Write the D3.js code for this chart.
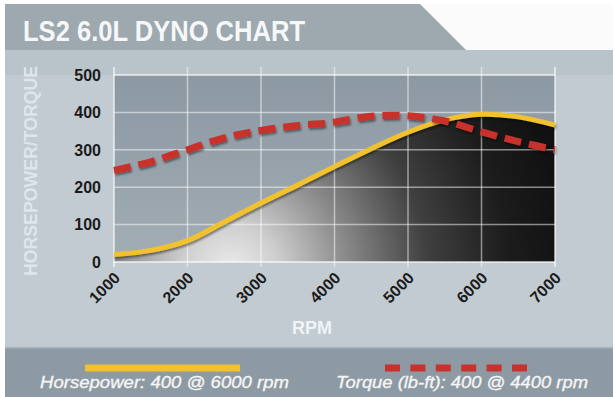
<!DOCTYPE html>
<html><head><meta charset="utf-8">
<script src="https://cdn.jsdelivr.net/npm/d3@7"></script>
<style>html,body{margin:0;padding:0;background:#fff;}svg{display:block;}</style>
</head><body>
<svg id="c" width="615" height="397"></svg>
<script>
const title = "LS2 6.0L DYNO CHART";
const rpm = [1000,1500,2000,2500,3000,3500,4000,4500,5000,5500,6000,6500,7000];
const horsepower = [20,31,57,107,158,206,255,303,347,380,395,388,366];
const torque = [245,268,300,332,352,365,374,390,391,377,348,322,300];
const xTicks = [1000,2000,3000,4000,5000,6000,7000];
const yTicks = [0,100,200,300,400,500];
const yTitle = "HORSEPOWER/TORQUE";
const xTitle = "RPM";
const legendHP = "Horsepower: 400 @ 6000 rpm";
const legendTQ = "Torque (lb-ft): 400 @ 4400 rpm";

const svg = d3.select("#c");
const defs = svg.append("defs");
const rg = defs.append("radialGradient").attr("id","fillg").attr("gradientUnits","userSpaceOnUse")
  .attr("cx",230).attr("cy",272).attr("r",340);
[[0,"#ececec"],[0.14,"#cfcfcf"],[0.33,"#8e8e8e"],[0.58,"#404040"],[0.82,"#1c1c1c"],[1,"#111"]]
  .forEach(([o,c])=>rg.append("stop").attr("offset",o).attr("stop-color",c));
const pg = defs.append("linearGradient").attr("id","plotbg").attr("x1",0).attr("y1",0).attr("x2",0).attr("y2",1);
pg.append("stop").attr("offset",0).attr("stop-color","#8c98a2");
pg.append("stop").attr("offset",1).attr("stop-color","#a2adb5");
const sh = defs.append("filter").attr("id","sh").attr("x","-10%").attr("y","-20%").attr("width","120%").attr("height","160%");
sh.append("feDropShadow").attr("dx",1).attr("dy",2).attr("stdDeviation",1.2).attr("flood-color","#000").attr("flood-opacity",0.45);

// backgrounds
svg.append("rect").attr("x",5).attr("y",4).attr("width",608).attr("height",393).attr("fill","#c2cbd1");
svg.append("rect").attr("x",5).attr("y",50).attr("width",608).attr("height",25).attr("fill","#b9c3ca");
svg.append("rect").attr("x",5).attr("y",4).attr("width",608).attr("height",46).attr("fill","#fbfbfb");
svg.append("path").attr("d","M5,4 L420,4 L466,50 L5,50 Z").attr("fill","#9ea8af");
svg.append("rect").attr("x",5).attr("y",347).attr("width",608).attr("height",50).attr("fill","#8e9aa3");
svg.append("rect").attr("x",5).attr("y",347).attr("width",608).attr("height",1.5).attr("fill","#a7b1b8");

svg.append("text").attr("x",23).attr("y",41).text(title)
  .attr("font-family","'Liberation Sans',Arial,sans-serif").attr("font-weight","bold")
  .attr("font-size",29).attr("fill","#f5f7f8").attr("textLength",282).attr("lengthAdjust","spacingAndGlyphs");

const x = d3.scaleLinear().domain([1000,7000]).range([114,555]);
const y = d3.scaleLinear().domain([0,500]).range([262,75]);

svg.append("rect").attr("x",x(1000)).attr("y",y(500)).attr("width",x(7000)-x(1000)).attr("height",y(0)-y(500)).attr("fill","url(#plotbg)");

const data = rpm.map((r,i)=>({r,hp:horsepower[i],tq:torque[i]}));
const curve = d3.curveCatmullRom.alpha(0.5);
svg.append("path").datum(data)
  .attr("d",d3.area().x(d=>x(d.r)).y0(y(0)).y1(d=>y(d.hp)).curve(curve))
  .attr("fill","url(#fillg)");

// grid
const g = svg.append("g");
yTicks.forEach(t=>{
  g.append("line").attr("x1",x(1000)).attr("x2",x(7000)).attr("y1",y(t)).attr("y2",y(t))
   .attr("stroke","#ffffff").attr("stroke-opacity",(t===0||t===500)?0.8:0.5).attr("stroke-width",1.5);
});
xTicks.forEach(t=>{
  g.append("line").attr("x1",x(t)).attr("x2",x(t)).attr("y1",y(500)-8).attr("y2",y(0)+5)
   .attr("stroke","#ffffff").attr("stroke-opacity",(t===1000||t===7000)?0.75:0.5).attr("stroke-width",1.5);
});

svg.append("path").datum(data)
  .attr("d",d3.line().x(d=>x(d.r)).y(d=>y(d.hp)).curve(curve))
  .attr("fill","none").attr("stroke","#f2c22e").attr("stroke-width",5).attr("filter","url(#sh)");
svg.append("path").datum(data)
  .attr("d",d3.line().x(d=>x(d.r)).y(d=>y(d.tq)).curve(curve))
  .attr("fill","none").attr("stroke","#c9312c").attr("stroke-width",7).attr("stroke-dasharray","17 8").attr("filter","url(#sh)");

// axes labels
const font = "'Liberation Sans',Arial,sans-serif";
yTicks.forEach(t=>{
  svg.append("text").attr("x",101).attr("y",y(t)).attr("dy","0.36em").attr("text-anchor","end")
    .attr("font-family",font).attr("font-weight","bold").attr("font-size",16).attr("fill","#1b1b1b").text(t);
});
xTicks.forEach(t=>{
  svg.append("text").attr("transform",`translate(${x(t)+7},279) rotate(-45)`).attr("text-anchor","end")
    .attr("font-family",font).attr("font-weight","bold").attr("font-size",16).attr("fill","#1b1b1b").text(t);
});
svg.append("text").attr("transform","translate(37,171) rotate(-90)").attr("text-anchor","middle")
  .attr("font-family",font).attr("font-weight","bold").attr("font-size",19).attr("fill","#dfe6eb")
  .attr("textLength",210).attr("lengthAdjust","spacingAndGlyphs").text(yTitle);
svg.append("text").attr("x",312).attr("y",334).attr("text-anchor","middle")
  .attr("font-family",font).attr("font-weight","bold").attr("font-size",18).attr("fill","#f1f4f6").text(xTitle);

// legend
svg.append("line").attr("x1",85).attr("x2",240).attr("y1",368).attr("y2",368)
  .attr("stroke","#f2c22e").attr("stroke-width",7);
svg.append("line").attr("x1",385).attr("x2",527).attr("y1",368).attr("y2",368)
  .attr("stroke","#c9312c").attr("stroke-width",7).attr("stroke-dasharray","15 10.4");
svg.append("text").attr("x",40).attr("y",388).text(legendHP)
  .attr("font-family",font).attr("font-style","italic").attr("font-size",17).attr("fill","#f4f5f6")
  .attr("stroke","#f4f5f6").attr("stroke-width",0.35)
  .attr("textLength",249).attr("lengthAdjust","spacingAndGlyphs");
svg.append("text").attr("x",336).attr("y",388).text(legendTQ)
  .attr("font-family",font).attr("font-style","italic").attr("font-size",17).attr("fill","#f4f5f6")
  .attr("stroke","#f4f5f6").attr("stroke-width",0.35)
  .attr("textLength",252).attr("lengthAdjust","spacingAndGlyphs");
</script>
</body></html>
